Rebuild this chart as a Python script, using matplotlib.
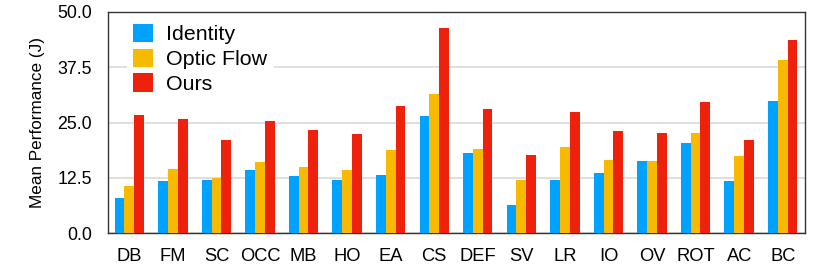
import matplotlib
matplotlib.use("Agg")
import matplotlib.pyplot as plt
import numpy as np

categories = ["DB", "FM", "SC", "OCC", "MB", "HO", "EA", "CS", "DEF", "SV",
              "LR", "IO", "OV", "ROT", "AC", "BC"]
identity = [7.9, 11.8, 12.1, 14.3, 12.9, 12.1, 13.1, 26.5, 18.0, 6.3,
            12.1, 13.5, 16.4, 20.3, 11.8, 29.9]
optic_flow = [10.7, 14.5, 12.4, 16.1, 14.9, 14.2, 18.8, 31.4, 18.9, 12.1,
              19.5, 16.5, 16.4, 22.6, 17.5, 39.1]
ours = [26.7, 25.8, 21.0, 25.4, 23.4, 22.3, 28.7, 46.3, 28.0, 17.6,
        27.4, 23.0, 22.6, 29.6, 21.0, 43.6]
series_names = ["Identity", "Optic Flow", "Ours"]
yticks = [0.0, 12.5, 25.0, 37.5, 50.0]

plt.rcParams['font.family'] = ['Liberation Sans', 'DejaVu Sans']

fig = plt.figure(figsize=(8.3, 2.68), dpi=100)
ax = fig.add_axes([107.5/830, 1 - 233/268, (804.5-107.5)/830, (233-12)/268])

x = np.arange(len(categories))
w = 0.225
colors = ["#00A2FF", "#F8BA00", "#EE220C"]
for i, (vals, name, c) in enumerate(zip([identity, optic_flow, ours], series_names, colors)):
    ax.bar(x + (i - 1) * w, vals, width=w, color=c, label=name, zorder=3, linewidth=0)

ax.set_xlim(-0.5, len(categories) - 0.5)
ax.set_ylim(0, 50)
ax.set_yticks(yticks)
ax.set_yticklabels([f"{v:.1f}" for v in yticks], fontsize=12.8)
ax.set_xticks(x)
ax.set_xticklabels(categories, fontsize=13.2)
ax.tick_params(length=0)
ax.tick_params(axis='x', pad=11)
ax.tick_params(axis='y', pad=11)
ax.yaxis.grid(True, color="#d9d9d9", linewidth=1.2, zorder=0)
ax.set_axisbelow(True)
for s in ax.spines.values():
    s.set_color("#333333")
    s.set_linewidth(1.0)
ax.set_ylabel("Mean Performance (J)", fontsize=12.3, labelpad=9)

leg = ax.legend(loc="upper left", fontsize=15.4, frameon=True, framealpha=1,
                edgecolor="none", fancybox=False, handlelength=0.93, handleheight=0.93,
                handletextpad=0.6, labelspacing=0.2, borderaxespad=0.0,
                borderpad=0.3, bbox_to_anchor=(0.028, 0.975))
leg.set_zorder(5)

fig.savefig("out.png", dpi=100)
